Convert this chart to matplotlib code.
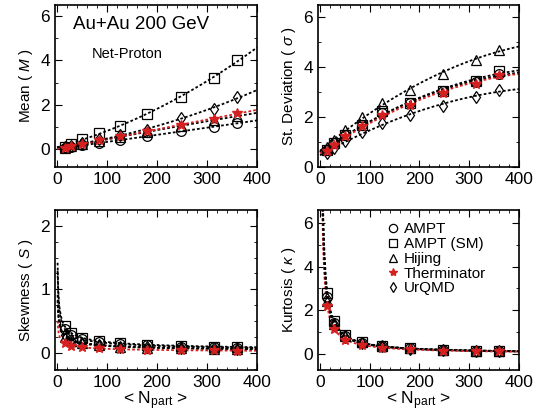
import numpy as np
import matplotlib
matplotlib.use("Agg")
import matplotlib.pyplot as plt
from matplotlib.ticker import MultipleLocator

plt.rcParams["font.family"] = ["Liberation Sans", "DejaVu Sans"]
plt.rcParams["mathtext.fontset"] = "custom"
plt.rcParams["mathtext.rm"] = "Liberation Sans"
plt.rcParams["mathtext.it"] = "Liberation Sans:italic"

# ---------------- data ----------------
npart = [15, 28, 50, 84, 125, 180, 248, 313, 360]
models = ["AMPT", "AMPT (SM)", "Hijing", "Therminator", "UrQMD"]

mean_ampt   = [0.05, 0.10, 0.18, 0.28, 0.42, 0.58, 0.80, 1.00, 1.18]
mean_amptsm = [0.12, 0.25, 0.48, 0.75, 1.05, 1.60, 2.35, 3.20, 4.00]
mean_hijing = [0.07, 0.13, 0.24, 0.38, 0.56, 0.78, 1.05, 1.30, 1.50]
mean_therm  = [0.07, 0.13, 0.24, 0.40, 0.60, 0.80, 1.08, 1.38, 1.62]
mean_urqmd  = [0.08, 0.16, 0.30, 0.48, 0.65, 0.85, 1.40, 1.80, 2.35]

sig_ampt   = [0.70, 0.95, 1.30, 1.70, 2.15, 2.55, 3.05, 3.40, 3.75]
sig_amptsm = [0.70, 0.95, 1.30, 1.70, 2.25, 2.55, 3.05, 3.45, 3.85]
sig_hijing = [0.80, 1.10, 1.50, 2.00, 2.55, 3.10, 3.75, 4.30, 4.70]
sig_therm  = [0.65, 0.90, 1.25, 1.65, 2.10, 2.50, 2.95, 3.35, 3.70]
sig_urqmd  = [0.55, 0.75, 1.05, 1.40, 1.75, 2.10, 2.45, 2.80, 3.10]

skew_ampt   = [0.38, 0.28, 0.22, 0.17, 0.14, 0.12, 0.10, 0.09, 0.08]
skew_amptsm = [0.42, 0.31, 0.24, 0.19, 0.16, 0.13, 0.11, 0.10, 0.09]
skew_hijing = [0.25, 0.19, 0.15, 0.12, 0.10, 0.08, 0.07, 0.06, 0.06]
skew_therm  = [0.15, 0.11, 0.09, 0.07, 0.06, 0.05, 0.04, 0.04, 0.03]
skew_urqmd  = [0.28, 0.21, 0.16, 0.13, 0.10, 0.09, 0.08, 0.07, 0.06]

kurt_ampt   = [2.60, 1.40, 0.80, 0.50, 0.34, 0.24, 0.17, 0.14, 0.12]
kurt_amptsm = [2.80, 1.50, 0.85, 0.52, 0.35, 0.25, 0.18, 0.14, 0.12]
kurt_hijing = [2.40, 1.35, 0.80, 0.52, 0.36, 0.25, 0.18, 0.14, 0.12]
kurt_therm  = [2.20, 1.15, 0.65, 0.40, 0.28, 0.20, 0.14, 0.11, 0.10]
kurt_urqmd  = [2.50, 1.35, 0.78, 0.48, 0.33, 0.23, 0.17, 0.13, 0.11]

panels = [
    ([mean_ampt, mean_amptsm, mean_hijing, mean_therm, mean_urqmd], "Mean ( $M$ )", (-0.8, 6.5), 2, 1, "poly"),
    ([sig_ampt, sig_amptsm, sig_hijing, sig_therm, sig_urqmd], "St. Deviation ( $\\sigma$ )", (0, 6.5), 2, 1, "poly"),
    ([skew_ampt, skew_amptsm, skew_hijing, skew_therm, skew_urqmd], "Skewness ( $S$ )", (-0.27, 2.25), 1, 0.25, "power"),
    ([kurt_ampt, kurt_amptsm, kurt_hijing, kurt_therm, kurt_urqmd], "Kurtosis ( $\\kappa$ )", (-0.75, 6.6), 2, 1, "power"),
]

markers = ["o", "s", "^", "*", "d"]
colors = ["black", "black", "black", "#d62020", "black"]

fig = plt.figure(figsize=(5.34, 4.2), dpi=100)
positions = [
    (55/534, 1-167/420, 202/534, 162/420),
    (318/534, 1-167/420, 201/534, 162/420),
    (55/534, 1-370/420, 202/534, 160/420),
    (318/534, 1-370/420, 201/534, 160/420),
]

for i, (series, ylabel, ylim, major, minor, kind) in enumerate(panels):
    ax = fig.add_axes(positions[i])
    for j, vals in enumerate(series):
        x = np.array(npart, float)
        y = np.array(vals, float)
        if kind == "poly":
            xfit = np.linspace(0, 400, 300)
            c = np.polyfit(x, y, 2)
            yfit = np.polyval(c, xfit)
        else:
            xfit = np.linspace(1.2, 400, 400)
            b, a = np.polyfit(np.log(x), np.log(y), 1)
            yfit = np.exp(a) * xfit ** b
        ax.plot(xfit, yfit, color=colors[j], lw=1.3, ls=(0, (1.5, 1.2)), zorder=2)
        if markers[j] == "*":
            ax.plot(x, y, ls="none", marker="*", ms=7, mfc=colors[j], mec=colors[j],
                    label=models[j], zorder=4)
        else:
            ax.plot(x, y, ls="none", marker=markers[j],
                    ms=7 if markers[j] != "d" else 6, mfc="none", mec=colors[j],
                    mew=0.9, label=models[j], zorder=3)
    ax.set_xlim(-4, 400)
    ax.set_ylim(*ylim)
    ax.xaxis.set_major_locator(MultipleLocator(100))
    ax.xaxis.set_minor_locator(MultipleLocator(20))
    ax.yaxis.set_major_locator(MultipleLocator(major))
    ax.yaxis.set_minor_locator(MultipleLocator(minor))
    ax.tick_params(which="both", direction="in", top=True, right=True, labelsize=12.5)
    ax.tick_params(which="major", length=5)
    ax.tick_params(which="minor", length=2.5)
    for s in ax.spines.values():
        s.set_linewidth(1.2)
    ax.set_ylabel(ylabel, fontsize=11)
    if i >= 2:
        ax.set_xlabel("< N$_{\\mathregular{part}}$ >", fontsize=12.5, labelpad=0)
    if i == 0:
        ax.text(0.09, 0.85, "Au+Au 200 GeV", transform=ax.transAxes, fontsize=13.5)
        ax.text(0.18, 0.67, "Net-Proton", transform=ax.transAxes, fontsize=10.5)
    if i == 3:
        leg = ax.legend(loc="upper right", frameon=False, fontsize=11, handletextpad=0.2,
                        labelspacing=0.05, borderaxespad=0.1, handlelength=1.0,
                        bbox_to_anchor=(0.875, 0.97), markerscale=0.85)

fig.savefig("out.png", dpi=100)
